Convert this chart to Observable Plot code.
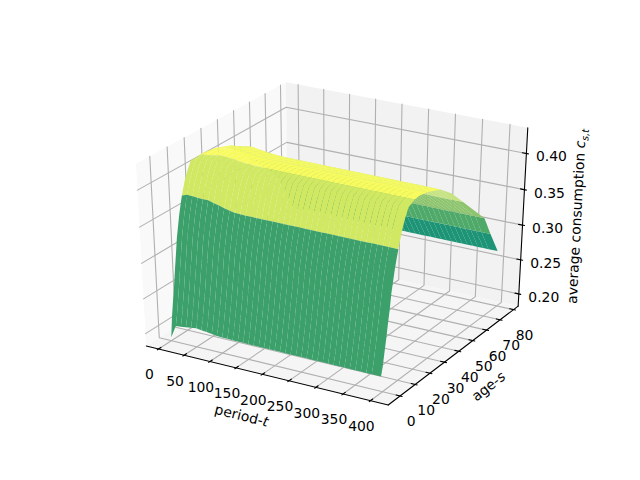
<!DOCTYPE html>
<html><head><meta charset="utf-8">
<style>html,body{margin:0;padding:0;background:#fff}svg{display:block}</style>
<script src="https://cdn.jsdelivr.net/npm/d3@7"></script>
<script src="https://cdn.jsdelivr.net/npm/@observablehq/plot@0.6"></script>
</head><body><div id="chart"></div>
<script>
const xTicks=[0,50,100,150,200,250,300,350,400];
const yTicks=[0,10,20,30,40,50,60,70,80];
const zTicks=[0.20,0.25,0.30,0.35,0.40];
const xLim=[-15,423], yLim=[-6,81.7], zLim=[0.187,0.430];
const axisLabels=[
 {base:"period-",vari:"t",sub:"",pos:"x"},
 {base:"age-",vari:"s",sub:"",pos:"y"},
 {base:"average consumption ",vari:"c",sub:"s,t",pos:"z"}
];
const periods=[...d3.range(0,390,10),397];
const ages=   [0,    1,    2,    3,   4,   5,    6,   7,    8,   9,    10,   12,   14,   16,  20,   23,   28,   37,   45,   53,   61,   69,   74,   80];
const profile=[0.203,0.215,0.233,0.25,0.27,0.288,0.31,0.325,0.34,0.352,0.363,0.383,0.398,0.41,0.415,0.416,0.414,0.406,0.390,0.368,0.346,0.324,0.295,0.262];
const earlyWeight=[0,.2,.4,.6,.8,1,1,1,1,1,1,.8,.6,.4,0,0,0,0,0,0,0,0,0,0];
const bandStart=[0,10,20,28,37,53,69,74];
const bandColor=["#3ca06b","#d0e862","#f8fb5e","#f5fa62","#c5e380","#8dc46e","#4faa6a","#1d9475"];
const shiftT=[0,10,30,50,70,90,120,397];
const shiftZ=[-0.002,0.002,0.004,0.006,0.004,0.002,0.001,0];
const earlyT=[0,40,100,397];
const earlyZ=[0.012,0.006,0,0];
const leftDrop=-0.014;

const R=.5,D=10;
const w=[.4330127,-.75,.5],u=[.8660254,.5,0],v=[-.25,.4330127,.8660254];
function proj(X,Y,Z){
  const p=[(X-xLim[0])/(xLim[1]-xLim[0])-R,(Y-yLim[0])/(yLim[1]-yLim[0])-R,(Z-zLim[0])/(zLim[1]-zLim[0])-R];
  const d=a=>a[0]*p[0]+a[1]*p[1]+a[2]*p[2];
  const depth=D-d(w);
  return [d(u)/depth,d(v)/depth];
}
const dx=(xLim[1]-xLim[0])/48,dy=(yLim[1]-yLim[0])/48,dz=(zLim[1]-zLim[0])/48;
const X0=xLim[0]-dx,X1=xLim[1]+dx,Y0=yLim[0]-dy,Y1=yLim[1]+dy,Z0=zLim[0]-dz,Z1=zLim[1]+dz;
const poly=(id,fill,pts)=>pts.map(q=>{const [x,y]=proj(...q);return {id,fill,x,y}});
const panes=[
 ...poly("a","#f9f9f9",[[X0,Y0,Z0],[X0,Y1,Z0],[X0,Y1,Z1],[X0,Y0,Z1]]),
 ...poly("b","#f2f2f2",[[X0,Y1,Z0],[X1,Y1,Z0],[X1,Y1,Z1],[X0,Y1,Z1]]),
 ...poly("c","#f5f5f5",[[X0,Y0,Z0],[X1,Y0,Z0],[X1,Y1,Z0],[X0,Y1,Z0]])
];
const grid=[];
const seg=(arr,id,a,b)=>{for(const q of [a,b]){const [x,y]=proj(...q);arr.push({id,x,y})}};
xTicks.forEach(t=>{grid.push(...poly("gx"+t,"",[[t,Y0,Z0],[t,Y1,Z0],[t,Y1,Z1]]))});
yTicks.forEach(t=>{grid.push(...poly("gy"+t,"",[[X0,t,Z1],[X0,t,Z0],[X1,t,Z0]]))});
zTicks.forEach(t=>{grid.push(...poly("gz"+t,"",[[X0,Y0,t],[X0,Y1,t],[X1,Y1,t]]))});
const axes=[];
seg(axes,"ax",[X0,Y0,Z0],[X1,Y0,Z0]);
seg(axes,"ay",[X1,Y0,Z0],[X1,Y1,Z0]);
seg(axes,"az",[X1,Y1,Z0],[X1,Y1,Z1]);
const tk=[];
const out=.1/12,inn=.2/12;
const lab=(p,text)=>{const [x,y]=proj(...p);return {x,y,text}};
const xLab=xTicks.map(t=>lab([t,Y0,Z0],String(t)));
const yLab=yTicks.map(t=>lab([X1,t,Z0],String(t)));
const zLab=zTicks.map(t=>lab([X1,Y1,t],t.toFixed(2)));
xTicks.forEach(t=>{const d=yLim[1]-yLim[0];seg(tk,"tx"+t,[t,Y0-out*d,Z0],[t,Y0+inn*d,Z0])});
yTicks.forEach(t=>{const d=xLim[1]-xLim[0];seg(tk,"ty"+t,[X1+out*d,t,Z0],[X1-inn*d,t,Z0])});
zTicks.forEach(t=>{const d=xLim[1]-xLim[0];seg(tk,"tz"+t,[X1+out*d,Y1,t],[X1-inn*d,Y1,t])});
const interp=(ts,zs,t)=>{const i=Math.max(1,d3.bisectLeft(ts,t));const a=(t-ts[i-1])/(ts[i]-ts[i-1]);return zs[i-1]*(1-a)+zs[i]*a};
const zAt=(t,a)=>{const k=ages.indexOf(a);
  return profile[k]+interp(shiftT,shiftZ,t)*(a<40?1:0.4)+interp(earlyT,earlyZ,t)*earlyWeight[k]+(t==0&&a==0?leftDrop:0)};
const facets=[];
for(let b=bandStart.length-1;b>=0;b--){
  const s=bandStart[b],e=b+1<bandStart.length?bandStart[b+1]:80;
  const as=ages.filter(a=>a>=s&&a<=e);
  for(let i=0;i<periods.length-1;i++){
    const t0=periods[i],t1=periods[i+1];
    const pts=[...as.map(a=>[t0,a,zAt(t0,a)]),...as.slice().reverse().map(a=>[t1,a,zAt(t1,a)])];
    facets.push(...poly(`f${b}-${i}`,bandColor[b],pts));
  }
}
const font={fontFamily:"'DejaVu Sans'",fontSize:13.9,fill:"#000"};
const labelAt=pos=>pos=="x"?{px:[.5*(X0+X1),Y0,Z0],dx:-23,dy:41,r:14}:pos=="y"?{px:[X1,.5*(Y0+Y1),Z0],dx:33,dy:33,r:-38}:{px:[X1,Y1,.5*(Z0+Z1)],dx:54,dy:-3,r:-87};
const axisData=axisLabels.map(l=>{const a=labelAt(l.pos);const [x,y]=proj(...a.px);return {...l,x,y,dx:a.dx,dy:a.dy,r:a.r}});
const plot=Plot.plot({
  width:640,height:480,margin:0,
  x:{domain:[-.095,.09],range:[80,576],axis:null},
  y:{domain:[-.095,.09],range:[427.2,57.6],axis:null},
  style:{background:"#fff"},
  marks:[
   Plot.line(panes,{x:"x",y:"y",z:"id",fill:"fill",stroke:null,curve:"linear-closed"}),
   Plot.line(grid,{x:"x",y:"y",z:"id",stroke:"#b0b0b0",strokeWidth:1.1}),
   Plot.line(axes,{x:"x",y:"y",z:"id",stroke:"#000",strokeWidth:1.1}),
   Plot.line(tk,{x:"x",y:"y",z:"id",stroke:"#000",strokeWidth:1.1}),
   Plot.line(facets,{x:"x",y:"y",z:"id",fill:"fill",stroke:null,curve:"linear-closed"}),
   Plot.text(xLab,{x:"x",y:"y",text:"text",dx:-9,dy:26,...font}),
   Plot.text(yLab,{x:"x",y:"y",text:"text",dx:11,dy:26,...font}),
   Plot.text(zLab,{x:"x",y:"y",text:"text",dx:25,dy:3.5,...font}),
   ...axisData.map(l=>Plot.text([l],{x:"x",y:"y",text:"base",rotate:l.r,dx:l.dx,dy:l.dy,...font,
     render:(i,s,v,d,c,n)=>{const g=n(i,s,v,d,c);
       const t=d3.select(g).select("text");
       t.append("tspan").attr("font-style","italic").text(l.vari);
       if(l.sub)t.append("tspan").attr("font-style","italic").attr("font-size",9.7).attr("dy",3).text(l.sub);
       return g}}))
  ]
});
document.getElementById("chart").append(plot);
</script></body></html>
